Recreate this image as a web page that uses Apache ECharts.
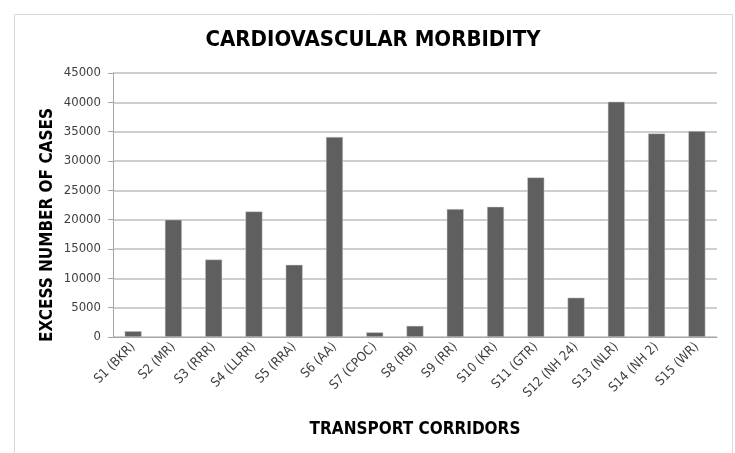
<!DOCTYPE html>
<html>
<head>
<meta charset="utf-8">
<script src="https://cdn.jsdelivr.net/npm/echarts@6/dist/echarts.min.js"></script>
<style>
html,body{margin:0;padding:0;background:#fff;}
#chart{width:735px;height:453px;}
</style>
</head>
<body>
<div id="chart"></div>
<script>
const categories = ['S1 (BKR)','S2 (MR)','S3 (RRR)','S4 (LLRR)','S5 (RRA)','S6 (AA)','S7 (CPOC)','S8 (RB)','S9 (RR)','S10 (KR)','S11 (GTR)','S12 (NH 24)','S13 (NLR)','S14 (NH 2)','S15 (WR)'];
const values = [1000, 20000, 13200, 21400, 12300, 34100, 800, 1900, 21800, 22200, 27200, 6700, 40100, 34700, 35100];
const yTicks = {min: 0, max: 45000, interval: 5000};
const titleText = 'CARDIOVASCULAR MORBIDITY';
const xName = 'TRANSPORT CORRIDORS';
const yName = 'EXCESS NUMBER OF CASES';

const FONT = '"Liberation Sans Narrow", "DejaVu Sans Condensed", "Liberation Sans", sans-serif';
const chart = echarts.init(document.getElementById('chart'), null, {renderer: 'canvas'});
chart.setOption({
  animation: false,
  backgroundColor: '#fff',
  graphic: [{
    type: 'rect', silent: true, z: -10,
    shape: {x: 14.5, y: 14.5, width: 718, height: 460},
    style: {fill: '#fff', stroke: '#d9d9d9', lineWidth: 1}
  }, {
    type: 'text', x: 373, y: 40,
    style: {text: titleText, font: 'bold 22px ' + FONT, fill: '#000', align: 'center', verticalAlign: 'middle'}
  }, {
    type: 'text', x: 415, y: 430,
    style: {text: xName, font: 'bold 17px ' + FONT, fill: '#000', align: 'center', verticalAlign: 'middle'}
  }, {
    type: 'text', x: 48, y: 225, rotation: Math.PI / 2,
    style: {text: yName, font: 'bold 17px ' + FONT, fill: '#000', align: 'center', verticalAlign: 'middle'}
  }],
  grid: {left: 113, right: 18, top: 73, bottom: 116, containLabel: false},
  xAxis: {
    type: 'category',
    data: categories,
    axisLine: {show: true, lineStyle: {color: '#a6a6a6', width: 1}},
    axisTick: {show: false},
    axisLabel: {rotate: 45, interval: 0, color: '#404040', fontFamily: FONT, fontSize: 13, margin: 8}
  },
  yAxis: {
    type: 'value',
    min: yTicks.min, max: yTicks.max, interval: yTicks.interval,
    axisLine: {show: true, lineStyle: {color: '#a6a6a6', width: 1}},
    axisTick: {show: true, length: 5, lineStyle: {color: '#a6a6a6'}},
    axisLabel: {color: '#404040', fontFamily: FONT, fontSize: 13, margin: 12, formatter: v => String(v)},
    splitLine: {show: true, lineStyle: {color: '#bfbfbf', width: 1.5}}
  },
  series: [{
    type: 'bar',
    data: values,
    barWidth: 17,
    itemStyle: {color: '#5f5f5f', borderColor: '#d0d0d0', borderWidth: 0.5}
  }]
});
</script>
</body>
</html>
